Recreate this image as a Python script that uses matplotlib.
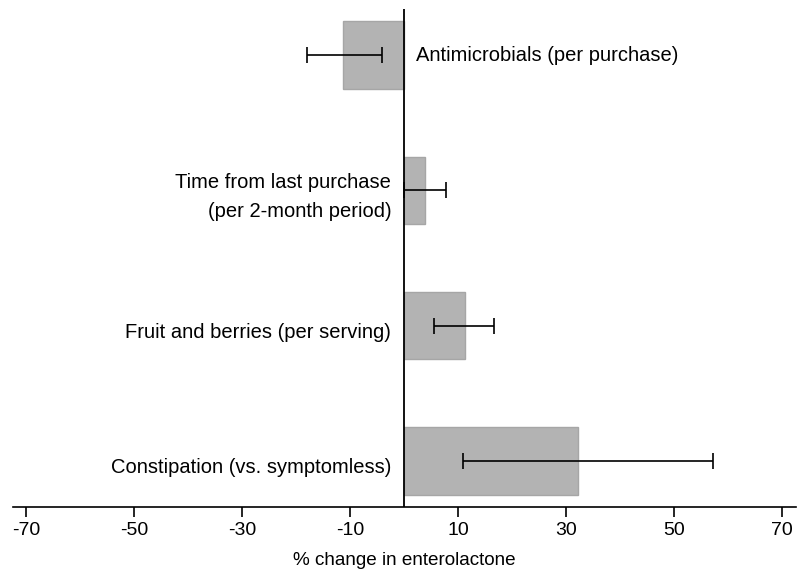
import numpy as np
import matplotlib.pyplot as plt

categories = ["Antimicrobials (per purchase)",
              "Time from last purchase\n(per 2-month period)",
              "Fruit and berries (per serving)",
              "Constipation (vs. symptomless)"]
estimate = [-11.3, 3.9, 11.3, 32.1]
ci_low = [-18.1, 0.0, 5.5, 10.9]
ci_high = [-4.2, 7.7, 16.7, 57.1]
ticks = [-70, -50, -30, -10, 10, 30, 50, 70]


def main():
    plt.rcParams['font.family'] = ['Liberation Sans', 'DejaVu Sans']
    fig = plt.figure(figsize=(7.97, 5.75), dpi=100)
    ax = fig.add_axes([0.0163, 0.1183, 0.982, 0.866])

    ypos = np.arange(len(categories))
    est = np.array(estimate)
    lo = est - np.array(ci_low)
    hi = np.array(ci_high) - est

    ax.barh(ypos, est, height=0.5, color='#b3b3b3', edgecolor='#a6a6a6', linewidth=1.0, zorder=2)
    ax.errorbar(est, ypos, xerr=[lo, hi], fmt='none', ecolor='black',
                elinewidth=1.2, capsize=6, capthick=1.2, zorder=3)
    ax.axvline(0, color='black', lw=1.3, zorder=4)

    for i, (lab, e) in enumerate(zip(categories, estimate)):
        if e < 0:
            ax.text(2.2, i, lab, ha='left', va='center', fontsize=14.5)
        else:
            ax.text(-2.4, i + 0.05, lab, ha='right', va='center', fontsize=14.5,
                    linespacing=1.7)

    ax.set_xlim(-72.5, 72.5)
    ax.set_ylim(3.34, -0.34)
    ax.set_xticks(ticks)
    ax.set_xticklabels([str(t) for t in ticks], fontsize=14)
    ax.set_yticks([])
    ax.tick_params(axis='x', length=7, width=1.2, pad=4)
    for s in ['top', 'right', 'left']:
        ax.spines[s].set_visible(False)
    ax.spines['bottom'].set_linewidth(1.2)
    ax.set_xlabel('% change in enterolactone', fontsize=13.6, labelpad=9)

    fig.savefig('out.png', dpi=100)


if __name__ == "__main__":
    main()
